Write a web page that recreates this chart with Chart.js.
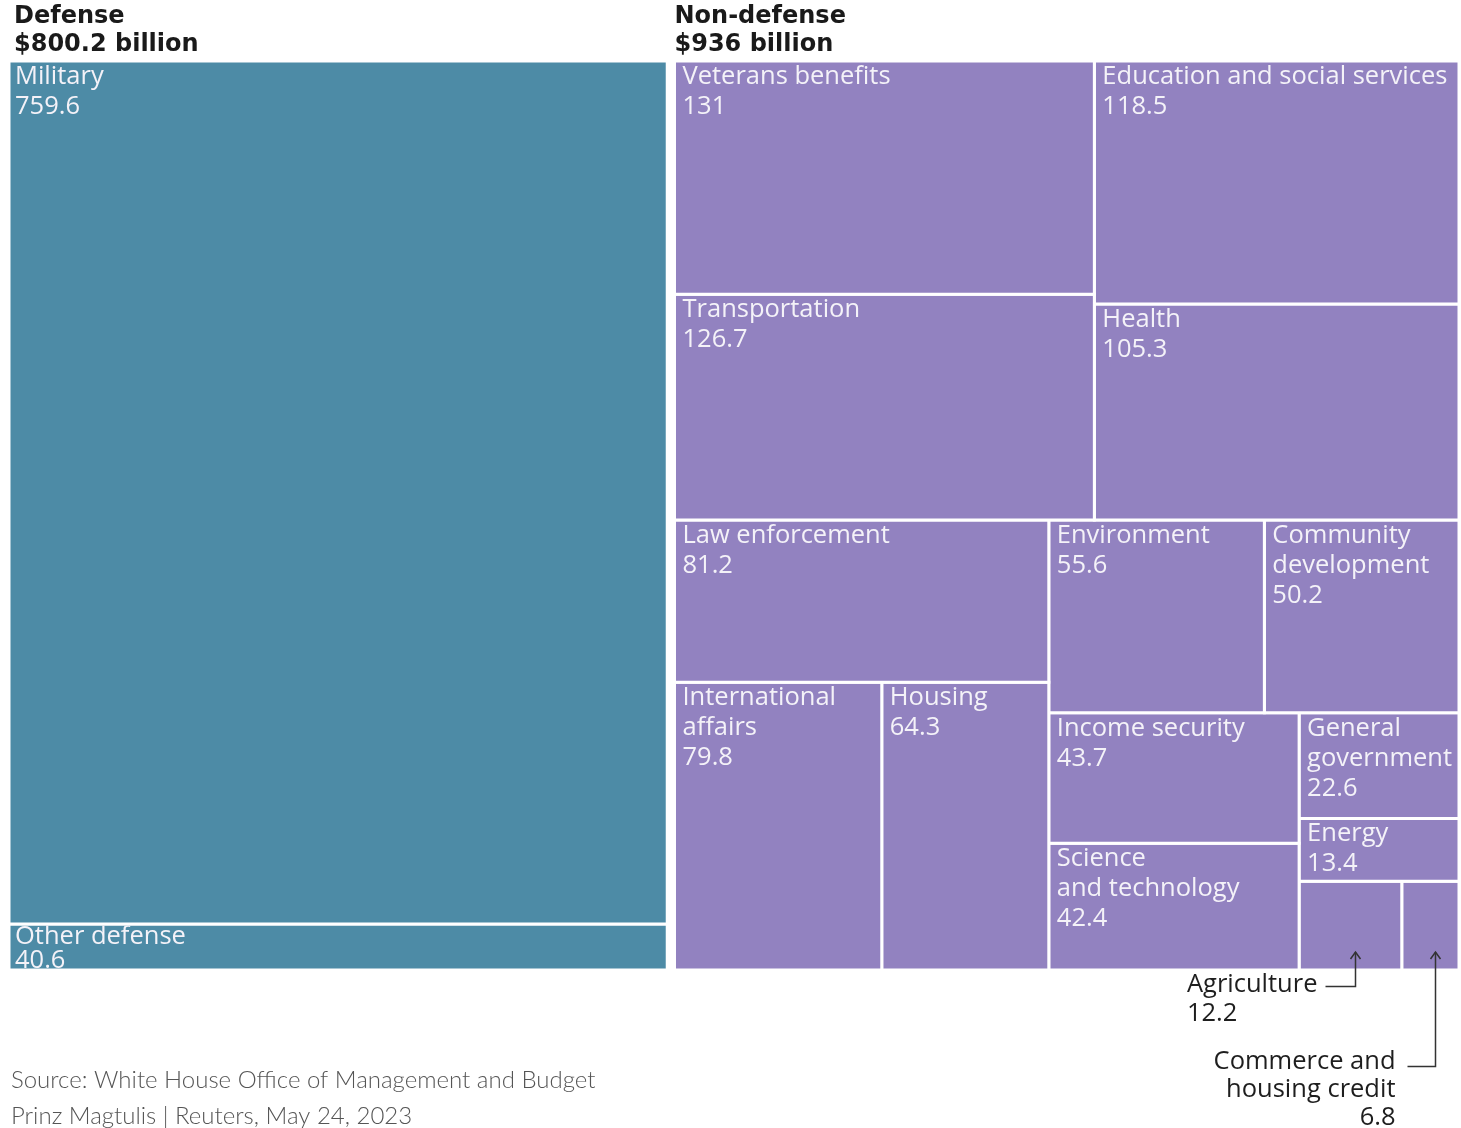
<!DOCTYPE html>
<html>
<head>
<meta charset="utf-8">
<script src="https://cdn.jsdelivr.net/npm/chart.js@4.4.0/dist/chart.umd.min.js"></script>
<style>
  body { margin: 0; background: #fff; }
</style>
</head>
<body>
<canvas id="myChart" width="1461" height="1128"></canvas>
<script>
var groups = ['Defense', 'Non-defense'];
var groupTotals = ['$800.2 billion', '$936 billion'];

var defenseCategories = ['Military', 'Other defense'];
var defenseValues = [759.6, 40.6];

var nonDefenseCategories = ['Veterans benefits', 'Transportation', 'Education and social services', 'Health',
    'Law enforcement', 'International affairs', 'Housing', 'Environment', 'Community development',
    'Income security', 'Science and technology', 'General government', 'Energy', 'Agriculture',
    'Commerce and housing credit'];
var nonDefenseValues = [131, 126.7, 118.5, 105.3, 81.2, 79.8, 64.3, 55.6, 50.2, 43.7, 42.4, 22.6, 13.4, 12.2, 6.8];

// how the boxes nest: 'h' = side by side, 'v' = stacked
var defenseTree = ['v', 'Military', 'Other defense'];
var nonDefenseTree = ['v',
    ['h', ['v', 'Veterans benefits', 'Transportation'], ['v', 'Education and social services', 'Health']],
    ['h',
        ['v', 'Law enforcement', ['h', 'International affairs', 'Housing']],
        ['v', ['h', 'Environment', 'Community development'],
            ['h', ['v', 'Income security', 'Science and technology'],
                ['v', 'General government', 'Energy', ['h', 'Agriculture', 'Commerce and housing credit']]]]]];

var wrapped = {
    'International affairs': ['International', 'affairs'],
    'Community development': ['Community', 'development'],
    'General government': ['General', 'government'],
    'Science and technology': ['Science', 'and technology']
};
var outsideLabels = ['Agriculture', 'Commerce and housing credit'];

var colors = ['#4d8ba6', '#9282c0'];
var cellFont = '25.5px "Open Sans"';

function valueOf(name) {
    var i = defenseCategories.indexOf(name);
    if (i >= 0) return defenseValues[i];
    return nonDefenseValues[nonDefenseCategories.indexOf(name)];
}

function total(node) {
    if (typeof node === 'string') return valueOf(node);
    var s = 0;
    for (var i = 1; i < node.length; i++) s += total(node[i]);
    return s;
}

function layout(node, x0, y0, x1, y1, group, out) {
    if (typeof node === 'string') {
        out.push({name: node, value: valueOf(node), group: group, x0: x0, y0: y0, x1: x1, y1: y1});
        return;
    }
    var t = total(node);
    var pos = node[0] === 'h' ? x0 : y0;
    for (var i = 1; i < node.length; i++) {
        var f = total(node[i]) / t;
        if (node[0] === 'h') {
            var w = (x1 - x0) * f;
            layout(node[i], pos, y0, pos + w, y1, group, out);
            pos += w;
        } else {
            var h = (y1 - y0) * f;
            layout(node[i], x0, pos, x1, pos + h, group, out);
            pos += h;
        }
    }
}

// top level: the two groups side by side with a small gap
var gap = 0.005;
var defTotal = total(defenseTree), nonDefTotal = total(nonDefenseTree);
var defWidth = (1 - gap) * defTotal / (defTotal + nonDefTotal);
var groupX0 = [0, defWidth + gap];
var cells = [];
layout(defenseTree, 0, 0, defWidth, 1, 0, cells);
layout(nonDefenseTree, defWidth + gap, 0, 1, 1, 1, cells);

var datasets = cells.map(function (c) {
    return {
        label: c.name,
        data: [{x: c.x0, y: c.y0}, {x: c.x1, y: c.y0}, {x: c.x1, y: c.y1}, {x: c.x0, y: c.y1}, {x: c.x0, y: c.y0}],
        showLine: true,
        fill: 'shape',
        backgroundColor: colors[c.group],
        borderColor: '#ffffff',
        borderWidth: 3,
        pointRadius: 0,
        tension: 0
    };
});

function arrowUp(ctx, x, y) {
    ctx.beginPath();
    ctx.moveTo(x - 5, y + 7);
    ctx.lineTo(x, y);
    ctx.lineTo(x + 5, y + 7);
    ctx.stroke();
}

var labelPlugin = {
    id: 'treeLabels',
    afterDatasetsDraw: function (chart) {
        var ctx = chart.ctx, xs = chart.scales.x, ys = chart.scales.y;
        var top = chart.chartArea.top;

        ctx.save();
        // group headers
        ctx.fillStyle = '#1a1a1a';
        ctx.font = 'bold 24px "DejaVu Sans"';
        ctx.textAlign = 'left';
        ctx.textBaseline = 'alphabetic';
        var headPad = [5, 0];
        for (var g = 0; g < groups.length; g++) {
            var hx = xs.getPixelForValue(groupX0[g]) + headPad[g];
            ctx.fillText(groups[g], hx, top - 38);
            ctx.fillText(groupTotals[g], hx, top - 10);
        }

        // cell labels
        ctx.font = cellFont;
        ctx.fillStyle = '#f4f2f8';
        cells.forEach(function (c) {
            if (outsideLabels.indexOf(c.name) >= 0) return;
            var px0 = xs.getPixelForValue(c.x0), px1 = xs.getPixelForValue(c.x1);
            var py0 = ys.getPixelForValue(c.y0), py1 = ys.getPixelForValue(c.y1);
            var lines = (wrapped[c.name] || [c.name]).concat([String(c.value)]);
            var short = py1 - py0 < 60;
            var lh = short ? 24 : 30;
            var first = short ? 20 : 23;
            var pad = c.group === 0 ? 6 : 8;
            ctx.save();
            ctx.beginPath();
            ctx.rect(px0 + 1.5, py0 + 1.5, px1 - px0 - 3, py1 - py0 - 3);
            ctx.clip();
            lines.forEach(function (l, i) {
                ctx.fillText(l, px0 + pad, py0 + first + i * lh);
            });
            ctx.restore();
        });

        // call-outs for the two smallest cells
        ctx.strokeStyle = '#333';
        ctx.lineWidth = 1.5;
        ctx.fillStyle = '#1e1e1e';
        cells.forEach(function (c) {
            var k = outsideLabels.indexOf(c.name);
            if (k < 0) return;
            var cx = Math.round((xs.getPixelForValue(c.x0) + xs.getPixelForValue(c.x1)) / 2 + 5) + 0.5;
            var by = ys.getPixelForValue(c.y1);
            var tipY = by - 18;
            if (k === 0) {
                var ly = by + 16.5;
                ctx.beginPath();
                ctx.moveTo(cx, tipY);
                ctx.lineTo(cx, ly);
                ctx.lineTo(cx - 30, ly);
                ctx.stroke();
                arrowUp(ctx, cx, tipY);
                ctx.textAlign = 'right';
                var right = cx - 38;
                ctx.fillText('Agriculture', right, by + 22);
                var left = right - ctx.measureText('Agriculture').width;
                ctx.textAlign = 'left';
                ctx.fillText(String(c.value), left, by + 51);
            } else {
                var ly2 = by + 96.5;
                ctx.beginPath();
                ctx.moveTo(cx, tipY);
                ctx.lineTo(cx, ly2);
                ctx.lineTo(cx - 28, ly2);
                ctx.stroke();
                arrowUp(ctx, cx, tipY);
                ctx.textAlign = 'right';
                var r2 = cx - 40;
                ctx.fillText('Commerce and', r2, by + 99);
                ctx.fillText('housing credit', r2, by + 127);
                ctx.fillText(String(c.value), r2, by + 155);
            }
        });

        // footer
        ctx.textAlign = 'left';
        ctx.fillStyle = '#555';
        ctx.font = '300 24px Lato';
        ctx.fillText('Source: White House Office of Management and Budget', 11, 1088);
        ctx.fillText('Prinz Magtulis | Reuters, May 24, 2023', 11, 1124);
        ctx.restore();
    }
};

var ctx = document.getElementById('myChart').getContext('2d');
var chart = new Chart(ctx, {
    type: 'scatter',
    data: {datasets: datasets},
    options: {
        responsive: false,
        animation: false,
        devicePixelRatio: 1,
        layout: {padding: {left: 9, top: 61, right: 2, bottom: 158}},
        scales: {
            x: {type: 'linear', min: 0, max: 1, display: false},
            y: {type: 'linear', min: 0, max: 1, reverse: true, display: false}
        },
        plugins: {
            legend: {display: false},
            tooltip: {enabled: false}
        }
    },
    plugins: [labelPlugin]
});
</script>
</body>
</html>
